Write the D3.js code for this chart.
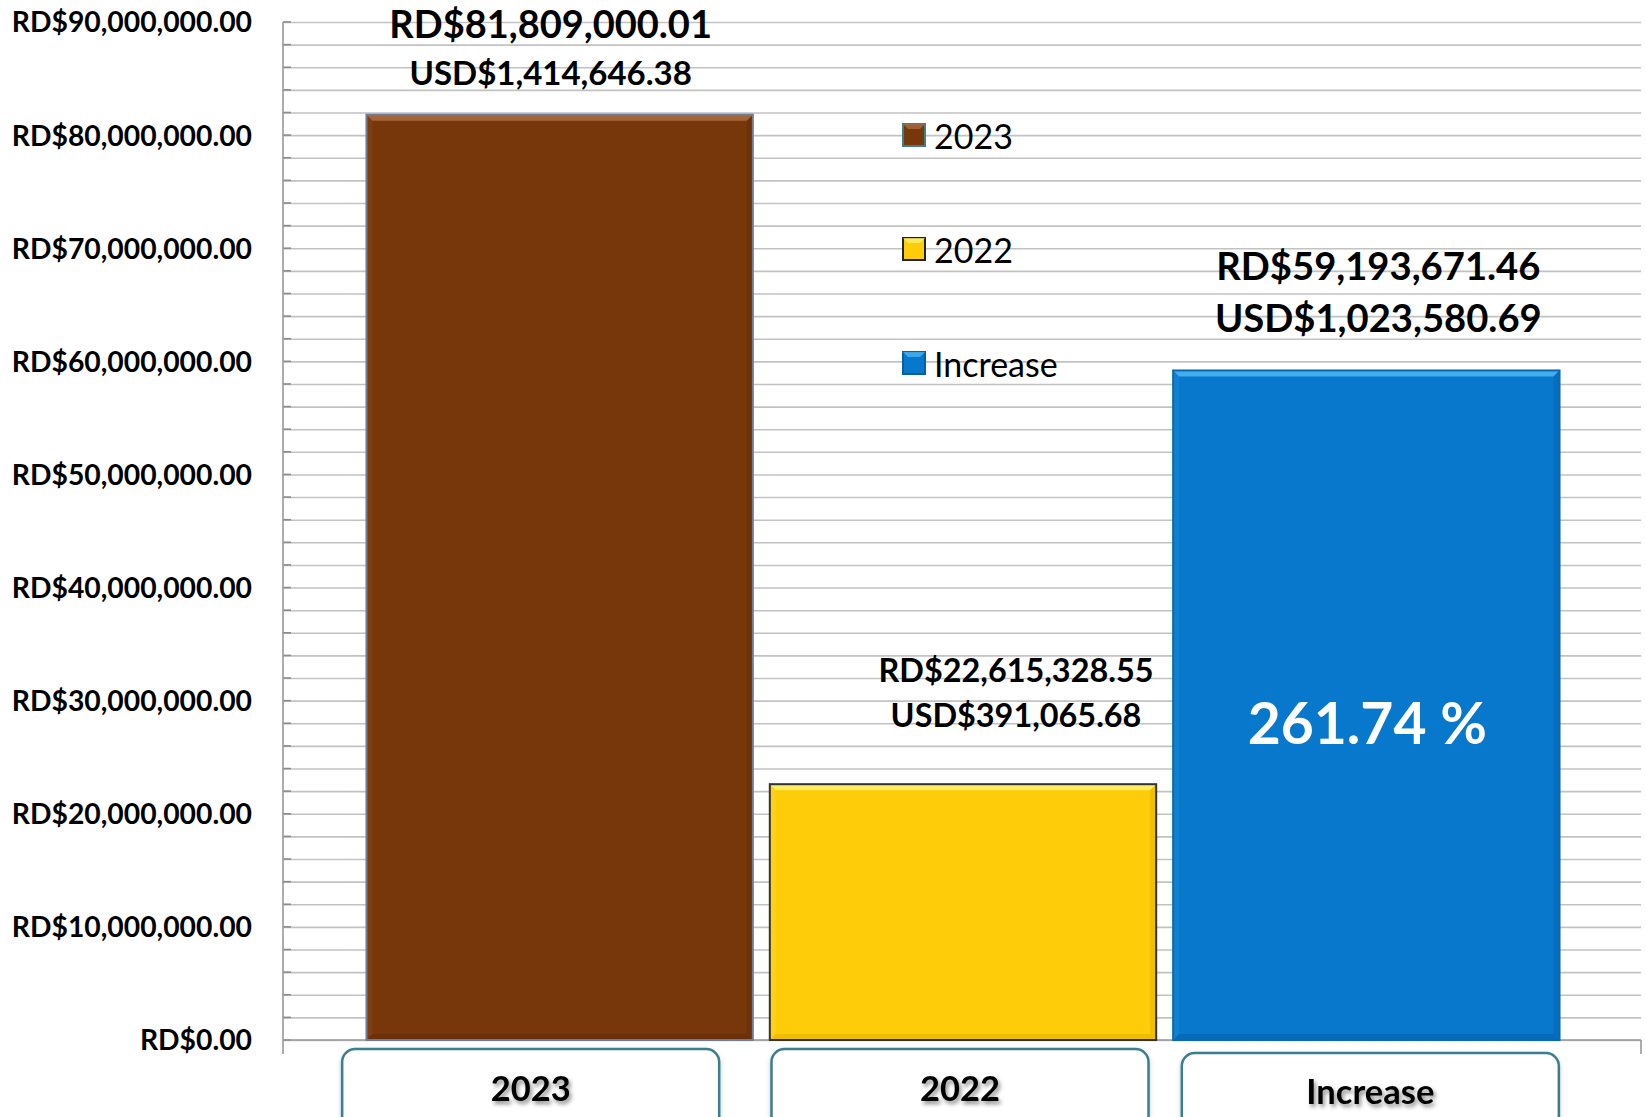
<!DOCTYPE html>
<html>
<head>
<meta charset="utf-8">
<script src="https://cdn.jsdelivr.net/npm/d3@7/dist/d3.min.js"></script>
<style>
  html, body { margin: 0; padding: 0; background: #fff; }
  svg { display: block; font-family: Lato, "Open Sans", sans-serif; }
</style>
</head>
<body>
<div id="chart"></div>
<script>
/* RD$ comparison 2023 vs 2022 */

// categories and values
const categories = ["2023", "2022", "Increase"];
const valuesRD = [81809000.01, 22615328.55, 59193671.46];
const valuesUSD = [1414646.38, 391065.68, 1023580.69];
const increasePct = 261.74;
const yTicks = [0, 10000000, 20000000, 30000000, 40000000, 50000000, 60000000, 70000000, 80000000, 90000000];
const legendLabels = ["2023", "2022", "Increase"];

const colors = {
  "2023": { fill: "#77370b", light: "#a86a3e", dark: "#4e2207", stroke: "#6f7d99" },
  "2022": { fill: "#fecc08", light: "#fff06a", dark: "#c99b00", stroke: "#333333" },
  "Increase": { fill: "#0778cc", light: "#49b4f2", dark: "#04508c", stroke: "#0a68b0" }
};

const size = { width: 1646, height: 1117 };
const plot = { left: 283, right: 1641, top: 22, bottom: 1040 };

const svg = d3.select("#chart").append("svg")
  .attr("width", size.width)
  .attr("height", size.height);

const defs = svg.append("defs");
const shadow = defs.append("filter").attr("id", "txtShadow")
  .attr("x", "-20%").attr("y", "-40%").attr("width", "140%").attr("height", "180%");
shadow.append("feDropShadow")
  .attr("dx", 2).attr("dy", 3).attr("stdDeviation", 2)
  .attr("flood-color", "#000").attr("flood-opacity", 0.45);
const boxShadow = defs.append("filter").attr("id", "boxShadow")
  .attr("x", "-10%").attr("y", "-20%").attr("width", "120%").attr("height", "140%");
boxShadow.append("feDropShadow")
  .attr("dx", 0).attr("dy", 2).attr("stdDeviation", 2)
  .attr("flood-color", "#6a9aa6").attr("flood-opacity", 0.5);

const yScale = d3.scaleLinear()
  .domain([0, 90000000])
  .range([plot.bottom, plot.top]);

const xScale = d3.scaleBand()
  .domain(categories)
  .range([358, 1568])
  .paddingInner(0.042)
  .paddingOuter(0.021);

const fmt = d3.format(",.2f");

// minor gridlines every 2M
const minorTicks = d3.range(0, 90000001, 2000000);
const yGrid = d3.axisLeft(yScale)
  .tickValues(minorTicks)
  .tickSize(-(plot.right - plot.left))
  .tickFormat("");

svg.append("g")
  .attr("class", "yGrid")
  .attr("transform", "translate(" + plot.left + ",0)")
  .call(yGrid)
  .call(g => g.select(".domain").remove())
  .call(g => g.selectAll("line").attr("stroke", "#c2c2c2").attr("stroke-width", 1.6));

// small inner tick marks on the axis
svg.append("g")
  .selectAll("line")
  .data(minorTicks)
  .join("line")
  .attr("x1", plot.left).attr("x2", plot.left + 8)
  .attr("y1", d => yScale(d)).attr("y2", d => yScale(d))
  .attr("stroke", "#8c8c8c").attr("stroke-width", 1.6);

// axis lines
svg.append("line")
  .attr("x1", plot.left).attr("x2", plot.left)
  .attr("y1", plot.top).attr("y2", plot.bottom + 14)
  .attr("stroke", "#999").attr("stroke-width", 1.6);
svg.append("line")
  .attr("x1", plot.left).attr("x2", plot.right)
  .attr("y1", plot.bottom).attr("y2", plot.bottom)
  .attr("stroke", "#999").attr("stroke-width", 1.6);
svg.append("line")
  .attr("x1", plot.right).attr("x2", plot.right)
  .attr("y1", plot.bottom).attr("y2", plot.bottom + 14)
  .attr("stroke", "#999").attr("stroke-width", 1.6);

// y tick labels
const yAxis = d3.axisLeft(yScale)
  .tickValues(yTicks)
  .tickSize(0)
  .tickPadding(0)
  .tickFormat(d => "RD$" + fmt(d));

svg.append("g")
  .attr("class", "y axis")
  .attr("transform", "translate(252,0)")
  .call(yAxis)
  .call(g => g.select(".domain").remove())
  .call(g => g.selectAll("text")
    .attr("fill", "#000")
    .attr("font-family", "Lato, sans-serif")
    .attr("font-weight", 700)
    .attr("font-size", 28.3)
    .attr("dy", "0.35em"));

// bars with a bevel
const bevel = 6;
const bars = svg.append("g").attr("class", "bars")
  .selectAll("g")
  .data(categories.map((c, i) => ({ cat: c, value: valuesRD[i] })))
  .join("g");

bars.each(function (d) {
  const g = d3.select(this);
  const c = colors[d.cat];
  const x0 = xScale(d.cat), x1 = x0 + xScale.bandwidth();
  const y0 = yScale(d.value), y1 = yScale(0);
  g.append("rect")
    .attr("x", x0).attr("y", y0)
    .attr("width", x1 - x0).attr("height", y1 - y0)
    .attr("fill", c.fill);
  const poly = (pts, fill, op) => g.append("polygon")
    .attr("points", pts.map(p => p.join(",")).join(" "))
    .attr("fill", fill).attr("opacity", op);
  poly([[x0, y0], [x1, y0], [x1 - bevel, y0 + bevel], [x0 + bevel, y0 + bevel]], c.light, 0.9);
  poly([[x0, y0], [x0 + bevel, y0 + bevel], [x0 + bevel, y1 - bevel], [x0, y1]], c.light, 0.15);
  poly([[x1, y0], [x1, y1], [x1 - bevel, y1 - bevel], [x1 - bevel, y0 + bevel]], c.dark, 0.25);
  poly([[x0, y1], [x0 + bevel, y1 - bevel], [x1 - bevel, y1 - bevel], [x1, y1]], c.dark, 0.3);
  g.append("rect")
    .attr("x", x0).attr("y", y0)
    .attr("width", x1 - x0).attr("height", y1 - y0)
    .attr("fill", "none")
    .attr("stroke", c.stroke).attr("stroke-width", 2);
});

// value labels (RD$ and USD$)
const labelPos = {
  "2023": { dx: -9, rdY: 23, usdY: 72, rdSize: 38, usdSize: 33 },
  "2022": { dx: 53, rdY: 669, usdY: 714, rdSize: 32.4, usdSize: 32.4 },
  "Increase": { dx: 12, rdY: 265, usdY: 317, rdSize: 38.2, usdSize: 38.2 }
};
const labels = svg.append("g").attr("class", "labels");
categories.forEach((c, i) => {
  const p = labelPos[c];
  const cx = xScale(c) + xScale.bandwidth() / 2 + p.dx;
  labels.append("text")
    .attr("x", cx).attr("y", p.rdY)
    .attr("text-anchor", "middle").attr("dominant-baseline", "central")
    .attr("font-weight", 700).attr("font-size", p.rdSize)
    .attr("fill", "#000")
    .text("RD$" + fmt(valuesRD[i]));
  labels.append("text")
    .attr("x", cx).attr("y", p.usdY)
    .attr("text-anchor", "middle").attr("dominant-baseline", "central")
    .attr("font-weight", 700).attr("font-size", p.usdSize)
    .attr("fill", "#000")
    .text("USD$" + fmt(valuesUSD[i]));
});

// percentage inside the Increase bar
labels.append("text")
  .attr("x", xScale("Increase") + xScale.bandwidth() / 2 + 1)
  .attr("y", 722)
  .attr("text-anchor", "middle").attr("dominant-baseline", "central")
  .attr("font-weight", 700).attr("font-size", 57)
  .attr("fill", "#fff")
  .text(d3.format(".2f")(increasePct) + " %");

// legend
const legend = svg.append("g").attr("class", "legend")
  .attr("transform", "translate(903,135)");
const lg = legend.selectAll("g")
  .data(legendLabels)
  .join("g")
  .attr("transform", (d, i) => "translate(0," + (i * 114) + ")");
lg.append("rect")
  .attr("x", 0).attr("y", -11).attr("width", 22).attr("height", 22)
  .attr("fill", d => colors[d].fill)
  .attr("stroke", d => d === "2023" ? "#3f7f8c" : d === "2022" ? "#222" : "#0a5fa0")
  .attr("stroke-width", 2);
lg.append("polygon")
  .attr("points", "0,-11 22,-11 17,-6 5,-6")
  .attr("fill", d => colors[d].light).attr("opacity", 0.8);
lg.append("text")
  .attr("x", 31).attr("y", 0)
  .attr("dominant-baseline", "central")
  .attr("font-size", 34)
  .attr("fill", "#000")
  .text(d => d);

// category label boxes (hand-placed in the original, slightly off the bars)
const boxW = 377;
const boxShift = { "2023": -29, "2022": -3, "Increase": 4 };
const cats = svg.append("g").attr("class", "x axis")
  .selectAll("g")
  .data(categories)
  .join("g")
  .attr("transform", d => "translate(" + (xScale(d) + xScale.bandwidth() / 2 + boxShift[d]) + ",0)");
cats.append("rect")
  .attr("x", -boxW / 2).attr("y", d => d === "Increase" ? 1053 : 1049)
  .attr("width", boxW).attr("height", 90)
  .attr("rx", 13).attr("ry", 13)
  .attr("fill", "#fff")
  .attr("stroke", "#3e7e8c").attr("stroke-width", 2.5)
  .attr("filter", "url(#boxShadow)");
cats.append("text")
  .attr("x", 0).attr("y", d => d === "Increase" ? 1090 : 1087)
  .attr("text-anchor", "middle").attr("dominant-baseline", "central")
  .attr("font-weight", 700).attr("font-size", 34.5)
  .attr("fill", "#000")
  .attr("filter", "url(#txtShadow)")
  .text(d => d);
</script>
</body>
</html>
